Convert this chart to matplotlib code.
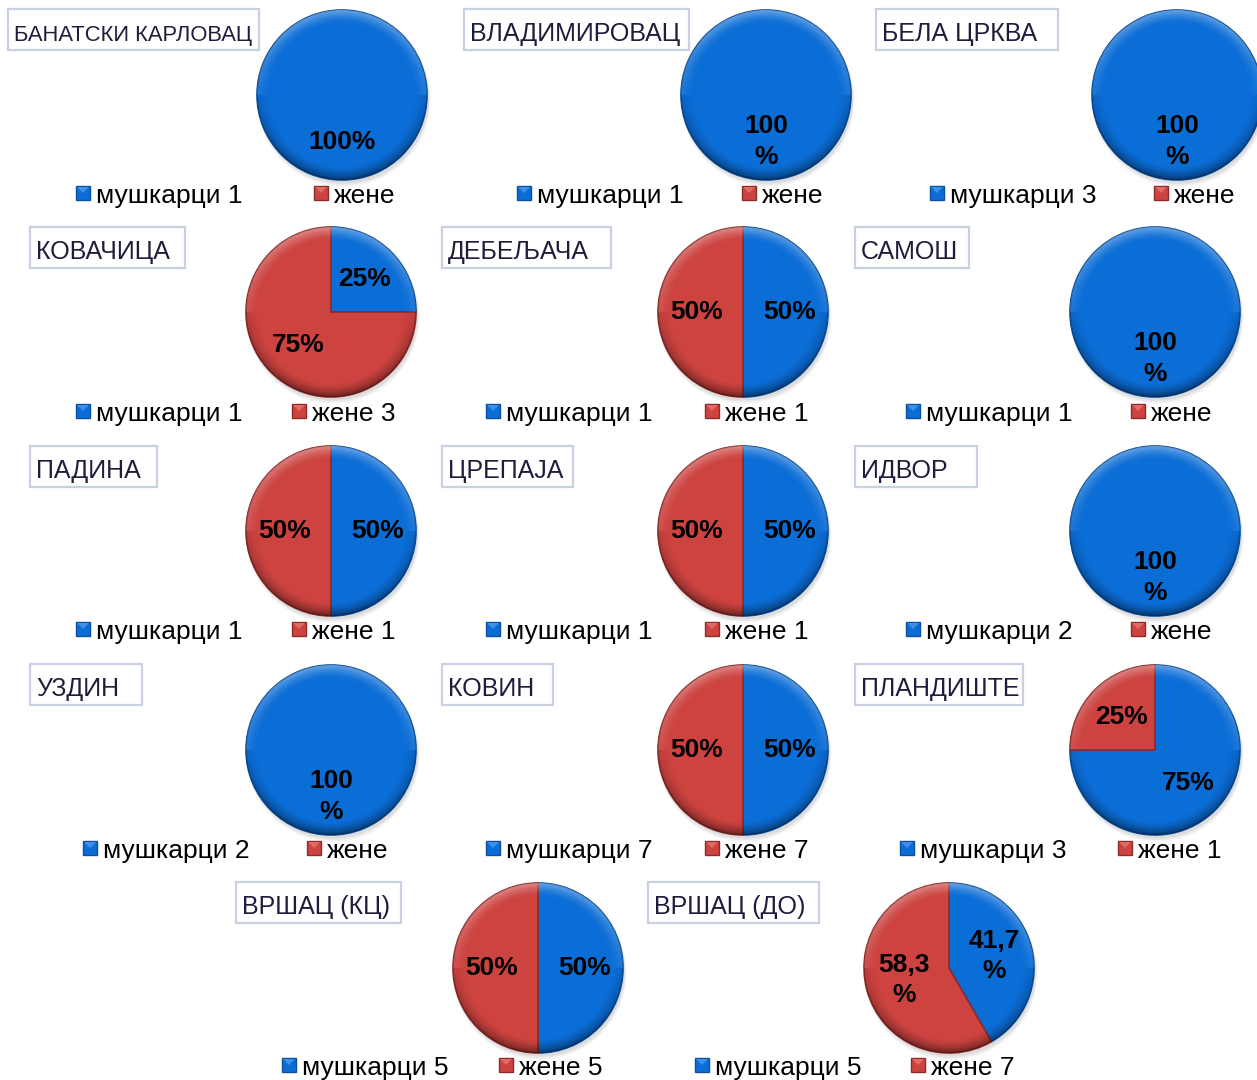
import numpy as np
import matplotlib
matplotlib.use('Agg')
import matplotlib.pyplot as plt
from matplotlib.patches import Rectangle, Polygon, Circle

plt.rcParams['font.family'] = ['Liberation Sans', 'DejaVu Sans']

# data
places = ['БАНАТСКИ КАРЛОВАЦ', 'ВЛАДИМИРОВАЦ', 'БЕЛА ЦРКВА',
          'КОВАЧИЦА', 'ДЕБЕЉАЧА', 'САМОШ',
          'ПАДИНА', 'ЦРЕПАЈА', 'ИДВОР',
          'УЗДИН', 'КОВИН', 'ПЛАНДИШТЕ',
          'ВРШАЦ (КЦ)', 'ВРШАЦ (ДО)']
men = [1, 1, 3, 1, 1, 1, 1, 1, 2, 2, 7, 3, 5, 5]
women = [0, 0, 0, 3, 1, 0, 1, 1, 0, 0, 7, 1, 5, 7]
men_label = 'мушкарци'
women_label = 'жене'
# Excel wrapped some of the percent labels onto two lines
pct_wrap = [False, True, True, False, False, True, False, False, True,
            True, False, False, False, True]

W, H = 1257, 1080
R = 85
BLUE = '#0b6dd6'
RED = '#cc4340'
BLUE_DK = '#0a4f9e'
RED_DK = '#8e2b29'

# layout (pixels): pie centres, title boxes (x, y, w), legend markers
pie_cx = [342, 766, 1177, 331, 743, 1155, 331, 743, 1155, 331, 743, 1155, 538, 949]
pie_cy = [95, 95, 95, 312, 312, 312, 531, 531, 531, 750, 750, 750, 968, 968]
title_box = [(8, 9, 251), (464, 9, 225), (876, 9, 182),
             (30, 227, 155), (442, 227, 169), (855, 227, 114),
             (30, 446, 127), (442, 446, 131), (855, 446, 122),
             (30, 664, 112), (442, 664, 111), (855, 664, 168),
             (236, 882, 165), (648, 882, 171)]
title_size = [15.8] + [18] * 13
leg_x = [(76, 314), (517, 742), (930, 1154),
         (76, 292), (486, 705), (906, 1131),
         (76, 292), (486, 705), (906, 1131),
         (83, 307), (486, 705), (900, 1118),
         (282, 499), (695, 911)]
leg_base = [203] * 3 + [421] * 3 + [639] * 3 + [858] * 3 + [1075] * 2


def pct_fmt(wrap):
    def f(p):
        if p < 0.05:
            return ''
        if abs(p - round(p)) < 0.05:
            s = '%d' % round(p)
        else:
            s = ('%.1f' % p).replace('.', ',')
        return s + ('\n%' if wrap else '%')
    return f


# rim shading for the bevelled look
n = 300
yy, xx = np.mgrid[-1:1:n * 1j, -1:1:n * 1j]
rr = np.sqrt(xx ** 2 + yy ** 2)
rim = np.clip((rr - 0.84) / 0.16, 0, 1) ** 1.5
shade = np.zeros((n, n, 4))
top = yy > 0
shade[top, :3] = 1.0
shade[..., 3] = np.where(top, 0.30 * rim * yy, 0.40 * rim * (-yy)) + 0.08 * rim

fig = plt.figure(figsize=(W / 100, H / 100), dpi=100)
bg = fig.add_axes([0, 0, 1, 1])
bg.set_xlim(0, W)
bg.set_ylim(H, 0)
bg.axis('off')

for i, name in enumerate(places):
    # title box
    x0, y0, bw = title_box[i]
    bg.add_patch(Rectangle((x0, y0), bw, 41, facecolor='white',
                           edgecolor='#c8d0e2', lw=1.6, zorder=1))
    bg.text(x0 + 6, y0 + 32, name, fontsize=title_size[i], color='#1e1e3c',
            va='baseline', ha='left', zorder=2)

    # legend
    base = leg_base[i]
    entries = [(men_label, men[i], BLUE, BLUE_DK, '#3f8fe8'),
               (women_label, women[i], RED, RED_DK, '#e06a66')]
    for (lab, v, c, cd, cl), lx in zip(entries, leg_x[i]):
        bg.add_patch(Rectangle((lx, base - 17), 14, 14, facecolor=c,
                               edgecolor=cd, lw=1, zorder=2))
        bg.add_patch(Polygon([(lx + 1, base - 16), (lx + 13, base - 16),
                              (lx + 7, base - 10)], closed=True,
                             facecolor=cl, edgecolor='none', zorder=3))
        txt = lab + (' %d' % v if v else '')
        bg.text(lx + 20, base, txt, fontsize=19, color='black',
                va='baseline', ha='left', zorder=2)

    # pie
    cx, cy = pie_cx[i], pie_cy[i]
    ax = fig.add_axes([(cx - R) / W, 1 - (cy + R) / H, 2 * R / W, 2 * R / H])
    for k, a in enumerate([0.05, 0.05, 0.04]):
        ax.add_patch(Circle((0.02, -0.04 - 0.01 * k), 1.0 + 0.01 * k,
                            facecolor='black', alpha=a, edgecolor='none',
                            zorder=0, clip_on=False))
    vals = [men[i], women[i]]
    wedges, texts, autotexts = ax.pie(
        vals, colors=[BLUE, RED], startangle=90,
        counterclock=False, radius=1, autopct=pct_fmt(pct_wrap[i]),
        pctdistance=0.55, wedgeprops=dict(linewidth=1.2),
        textprops=dict(fontsize=19, fontweight='bold', color='black'))
    for w, cd, v in zip(wedges, [BLUE_DK, RED_DK], vals):
        w.set_edgecolor(cd)
        w.set_zorder(2)
        if v == 0:
            w.set_visible(False)
    for t in autotexts:
        t.set_zorder(5)
        t.set_linespacing(1.35)
    img = ax.imshow(shade, extent=(-1, 1, -1, 1), origin='lower', zorder=3)
    img.set_clip_path(Circle((0, 0), 1, transform=ax.transData))
    ax.set_xlim(-1, 1)
    ax.set_ylim(-1, 1)
    ax.set_aspect('equal')
    ax.axis('off')

fig.savefig('out.png', dpi=100)
